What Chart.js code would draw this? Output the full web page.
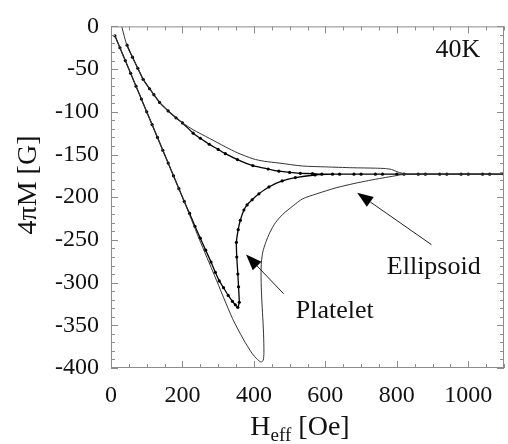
<!DOCTYPE html>
<html>
<head>
<meta charset="utf-8">
<script src="https://cdn.jsdelivr.net/npm/chart.js@4.4.1/dist/chart.umd.min.js"></script>
<style>
  html, body { margin: 0; padding: 0; background: #fff; }
</style>
</head>
<body>
<canvas id="cv" width="508" height="444"></canvas>
<script>
// ---- magnetisation loops at 40K: H_eff [Oe] vs 4piM [G] ----
// platelet: virgin branch down to the dip, back up to saturation, then field sweep back down
const plateletH = [11, 25, 40, 55, 70, 85, 100, 115, 130, 145, 160, 175, 190, 205, 220, 235, 250, 265, 280, 292,
  303, 315, 328, 340, 348, 355, 359, 357, 355, 352, 351, 356, 362, 372, 381, 395, 414, 442, 479, 516, 571,
  620, 680, 740, 800, 860, 920, 980, 1040, 1100,
  1060, 1000, 940, 880, 820, 760, 700, 640, 590, 564, 530, 500, 470, 440, 397, 354, 320, 300, 275, 250,
  230, 200, 182, 160, 136, 120, 108, 90, 75, 60, 45];
const plateletM = [-11, -25, -40, -55, -70, -85, -100, -115, -130, -145, -160, -175, -190, -205, -219, -234, -248, -262, -276, -288,
  -298, -306, -315, -322, -326, -329, -323, -305, -290, -270, -253, -238, -227, -215, -209, -203, -196, -188, -181, -177, -174,
  -173, -173, -173, -173, -173, -173, -173, -173, -173,
  -173, -173, -173, -173, -173, -173, -173, -173, -173, -172.5, -172, -171, -169.5, -167, -163, -156, -149, -144, -138, -131,
  -125, -113, -107, -99, -89, -80, -73, -62, -49, -36, -22];

// ellipsoid: same sweep, deeper dip and slower approach to saturation
const ellipsoidH = [11, 50, 100, 150, 200, 247, 290, 340, 370, 395, 410, 420, 426, 428, 427, 424, 421, 420, 421, 425,
  433, 445, 460, 481, 510, 536, 576, 630, 680, 721, 760, 795, 815, 860, 920, 980, 1040, 1100,
  1040, 980, 920, 860, 830, 815, 800, 785, 768, 740, 675, 600, 536, 470, 430, 397, 354, 320, 275, 230,
  200, 182, 160, 136, 108, 90, 75, 60, 45, 30];
const ellipsoidM = [-11, -50, -100, -150, -200, -249, -292, -342, -366, -383, -390, -393, -391, -382, -360, -335, -310, -290, -276, -264,
  -253, -241, -230, -220, -210, -202, -196, -189, -184, -180.5, -177.5, -175, -173.5, -173, -173, -173, -173, -173,
  -173, -173, -173, -173, -173, -172, -170, -167.5, -166.5, -166, -165.5, -164.5, -163.5, -160, -158, -155, -148, -141, -131, -121,
  -113, -107, -99, -89, -73, -62, -49, -36, -23, 0];

const xTicks = [0, 200, 400, 600, 800, 1000];
const yTicks = [0, -50, -100, -150, -200, -250, -300, -350, -400];

const SERIF = '"Liberation Serif", "Times New Roman", serif';
const FRAME = "#8c8c8c";

const toPoints = (hs, ms) => hs.map((h, i) => ({ x: h, y: ms[i] }));

// frame with inward ticks on all four sides, axis titles, labels and arrows
const decorPlugin = {
  id: "decor",
  afterDraw(chart) {
    const { ctx, chartArea: a, scales: { x, y } } = chart;
    ctx.save();
    ctx.strokeStyle = FRAME;
    ctx.lineWidth = 1;
    ctx.strokeRect(a.left + 0.5, a.top + 0.5, a.right - a.left - 1, a.bottom - a.top - 1);

    ctx.beginPath();
    for (let v = 0; v <= 1100; v += 50) {
      const px = Math.round(x.getPixelForValue(v)) + 0.5;
      const len = v % 200 === 0 ? 7 : 4;
      ctx.moveTo(px, a.bottom); ctx.lineTo(px, a.bottom - len);
      ctx.moveTo(px, a.top);    ctx.lineTo(px, a.top + len);
    }
    for (let v = -400; v <= 0; v += 10) {
      const py = Math.round(y.getPixelForValue(v)) + 0.5;
      const len = v % 50 === 0 ? 7 : 4;
      ctx.moveTo(a.left, py);  ctx.lineTo(a.left + len, py);
      ctx.moveTo(a.right, py); ctx.lineTo(a.right - len, py);
    }
    ctx.stroke();

    ctx.fillStyle = "#111";
    ctx.textBaseline = "alphabetic";

    // x title with subscript
    const big = "28px " + SERIF, small = "19px " + SERIF;
    ctx.font = big;  const wH = ctx.measureText("H").width, wRest = ctx.measureText(" [Oe]").width;
    ctx.font = small; const wSub = ctx.measureText("eff").width;
    let tx = 300 - (wH + wSub + wRest) / 2;
    const ty = 435;
    ctx.font = big;   ctx.fillText("H", tx, ty); tx += wH;
    ctx.font = small; ctx.fillText("eff", tx, ty + 6); tx += wSub;
    ctx.font = big;   ctx.fillText(" [Oe]", tx, ty);

    // y title
    ctx.save();
    ctx.translate(29, 185);
    ctx.rotate(-Math.PI / 2);
    ctx.textAlign = "center";
    ctx.textBaseline = "middle";
    ctx.font = big;
    ctx.fillText("4\u03C0M [G]", 0, 0);
    ctx.restore();

    // annotations
    ctx.font = "26px " + SERIF;
    ctx.textAlign = "left";
    ctx.fillText("40K", x.getPixelForValue(908), y.getPixelForValue(-35.5));
    ctx.fillText("Ellipsoid", x.getPixelForValue(772), y.getPixelForValue(-290));
    ctx.fillText("Platelet", x.getPixelForValue(517), y.getPixelForValue(-341.5));

    const arrow = (h0, m0, h1, m1) => {
      const x0 = x.getPixelForValue(h0), y0 = y.getPixelForValue(m0);
      const x1 = x.getPixelForValue(h1), y1 = y.getPixelForValue(m1);
      const ang = Math.atan2(y1 - y0, x1 - x0);
      const hl = 16, hw = 6;
      const bx = x1 - hl * Math.cos(ang), by = y1 - hl * Math.sin(ang);
      ctx.strokeStyle = "#222";
      ctx.lineWidth = 1;
      ctx.beginPath(); ctx.moveTo(x0, y0); ctx.lineTo(bx, by); ctx.stroke();
      ctx.beginPath();
      ctx.moveTo(x1, y1);
      ctx.lineTo(bx + hw * Math.sin(ang), by - hw * Math.cos(ang));
      ctx.lineTo(bx - hw * Math.sin(ang), by + hw * Math.cos(ang));
      ctx.closePath();
      ctx.fillStyle = "#000";
      ctx.fill();
    };
    arrow(897, -255.6, 689, -194.8);
    arrow(483, -313, 378, -267);
    ctx.restore();
  },
};

Chart.defaults.font.family = SERIF;
Chart.defaults.color = "#111";

new Chart(document.getElementById("cv"), {
  type: "scatter",
  plugins: [decorPlugin],
  data: {
    datasets: [
      {
        label: "Ellipsoid",
        data: toPoints(ellipsoidH, ellipsoidM),
        showLine: true,
        borderColor: "#333",
        borderWidth: 1,
        pointRadius: 0,
        tension: 0.25,
      },
      {
        label: "Platelet",
        data: toPoints(plateletH, plateletM),
        showLine: true,
        borderColor: "#000",
        backgroundColor: "#000",
        borderWidth: 1.3,
        pointRadius: 1.6,
        pointBorderWidth: 0,
        tension: 0.15,
      },
    ],
  },
  options: {
    responsive: false,
    animation: false,
    layout: { padding: { top: 19, right: 2, left: 0, bottom: 0 } },
    plugins: { legend: { display: false }, tooltip: { enabled: false } },
    scales: {
      x: {
        type: "linear", min: 0, max: 1100,
        grid: { display: false, drawTicks: false },
        border: { display: false },
        afterBuildTicks: (s) => { s.ticks = xTicks.map((v) => ({ value: v })); },
        afterFit: (s) => { s.height = 76; },
        ticks: { font: { size: 24 }, color: "#111", padding: 13, maxRotation: 0, callback: (v) => String(v) },
      },
      y: {
        type: "linear", min: -400, max: 0,
        grid: { display: false, drawTicks: false },
        border: { display: false },
        afterBuildTicks: (s) => { s.ticks = yTicks.map((v) => ({ value: v })); },
        afterFit: (s) => { s.width = 111; },
        ticks: { font: { size: 24 }, color: "#111", padding: 12, callback: (v) => String(v) },
      },
    },
  },
});
</script>
</body>
</html>
